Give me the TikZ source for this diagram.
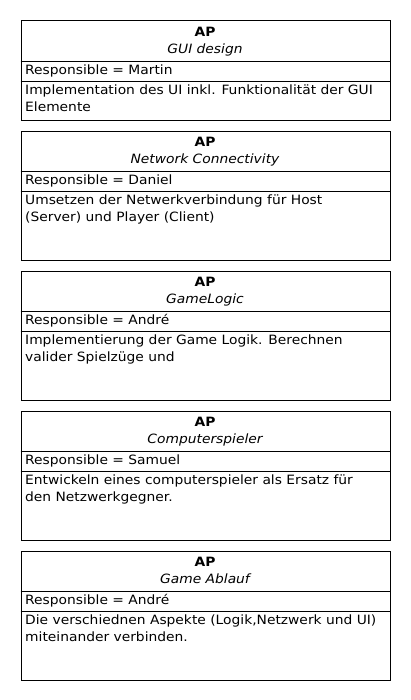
\documentclass[tikz,border=0pt]{standalone}
\usepackage{fontspec}
\setmainfont[FakeStretch=1.08]{DejaVu Sans}
\begin{document}
\begin{tikzpicture}[x=1bp,y=-1bp,
  frame/.style={draw=black, line width=1bp, minimum width=369bp, inner sep=0pt, anchor=north west, rectangle},
  sep/.style={draw=black, line width=1bp},
  txt/.style={inner sep=0pt, font=\fontsize{12.8bp}{16bp}\selectfont},
  ttl/.style={txt, anchor=base, font=\fontsize{12.8bp}{16bp}\selectfont\bfseries},
  nm/.style={txt, anchor=base, font=\fontsize{12.8bp}{16bp}\selectfont\itshape},
  lft/.style={txt, anchor=base west}]
\useasboundingbox (0,0) rectangle (410,700);
\newcommand{\apbox}[6]{%
  \node[frame, minimum height=#3 bp] (#1) at (20.5,#2+0.5) {};
  \coordinate (#1s1) at (20.5,#2+41.5);
  \coordinate (#1s2) at (20.5,#2+61.5);
  \draw[sep] (#1s1) -- (#1s1 -| #1.east);
  \draw[sep] (#1s2) -- (#1s2 -| #1.east);
  \node[ttl] (#1ap) at (205,#2+16.5) {AP};
  \node[nm] (#1nm) at (205,#2+33.5) {#4};
  \node[lft] (#1r) at (25,#2+54.5) {Responsible = #5};
  \foreach \ln [count=\k] in {#6} {
    \node[lft] (#1l\k) at (25,#2+58+16.7*\k) {\ln};
  }
}
\apbox{b1}{20}{99}{GUI design}{Martin}{Implementation des UI inkl. Funktionalität der GUI,Elemente}
\apbox{b2}{130}{129}{Network Connectivity}{Daniel}{Umsetzen der Netwerkverbindung für Host,(Server) und Player (Client)}
\apbox{b3}{270}{129}{GameLogic}{André}{Implementierung der Game Logik. Berechnen,valider Spielzüge und}
\apbox{b4}{410}{129}{Computerspieler}{Samuel}{Entwickeln eines computerspieler als Ersatz für,den Netzwerkgegner.}
\apbox{b5}{550}{129}{Game Ablauf}{André}{{Die verschiednen Aspekte (Logik,Netzwerk und UI)},miteinander verbinden.}
\end{tikzpicture}
\end{document}
